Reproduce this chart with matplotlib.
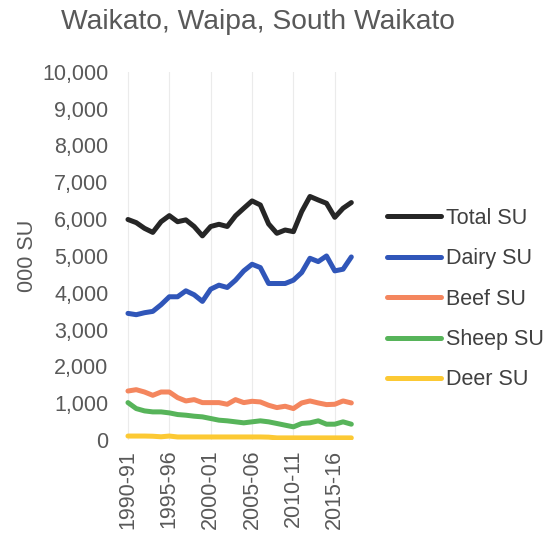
import matplotlib
matplotlib.use("Agg")
import matplotlib.pyplot as plt

plt.rcParams['font.family'] = ['Liberation Sans', 'DejaVu Sans']

years = [f"{y}-{str(y+1)[-2:]}" for y in range(1990, 2018)]
tick_labels = ["1990-91", "1995-96", "2000-01", "2005-06", "2010-11", "2015-16"]

total = [5990, 5905, 5750, 5640, 5930, 6095, 5930, 5980, 5800, 5545,
         5800, 5860, 5800, 6090, 6295, 6495, 6385, 5870, 5615, 5705,
         5660, 6205, 6615, 6520, 6430, 6050, 6295, 6450]
dairy = [3441, 3405, 3459, 3495, 3676, 3892, 3892, 4054, 3946, 3766,
         4099, 4207, 4144, 4342, 4595, 4775, 4685, 4252, 4252, 4252,
         4342, 4550, 4937, 4847, 5000, 4595, 4640, 4973]
beef = [1333, 1369, 1306, 1216, 1306, 1306, 1153, 1063, 1099, 1018,
        1018, 1018, 973, 1099, 1018, 1054, 1036, 946, 883, 919,
        856, 1009, 1063, 1009, 964, 973, 1063, 1009]
sheep = [1018, 856, 793, 766, 766, 739, 694, 676, 649, 631,
         586, 541, 523, 496, 469, 496, 523, 496, 451, 405,
         360, 451, 469, 523, 432, 432, 496, 432]
deer = [110, 110, 110, 105, 90, 110, 85, 85, 85, 85,
        85, 85, 85, 85, 85, 85, 85, 80, 60, 60,
        60, 60, 60, 60, 60, 60, 60, 60]

series = [("Total SU", total, "#262626"),
          ("Dairy SU", dairy, "#3056B9"),
          ("Beef SU", beef, "#F4865E"),
          ("Sheep SU", sheep, "#57B45A"),
          ("Deer SU", deer, "#FCC934")]

grey = "#595959"
fig = plt.figure(figsize=(5.49, 5.40), dpi=100)
ax = fig.add_axes([0.215, 0.185, 0.44, 0.682])

x = list(range(len(years)))
for name, vals, col in series:
    ax.plot(x, vals, color=col, lw=3.6, label=name, solid_capstyle="round",
            solid_joinstyle="round")

ax.set_ylim(0, 10000)
ax.set_yticks(range(0, 10001, 1000))
ax.set_yticklabels([f"{v:,}" for v in range(0, 10001, 1000)])
ax.set_xlim(-1.2, 28.0)
pos = [years.index(t) for t in tick_labels]
ax.set_xticks(pos)
ax.set_xticklabels(tick_labels, rotation=90)
ax.tick_params(axis="both", length=0, labelsize=15.5, colors=grey, pad=7)
ax.grid(axis="x", color="#EBEBEB", lw=0.8)
ax.set_axisbelow(True)
for s in ax.spines.values():
    s.set_visible(False)

ax.set_ylabel("000 SU", fontsize=15.5, color=grey, labelpad=3)
fig.text(0.47, 0.96, "Waikato, Waipa, South Waikato", ha="center", va="center",
         fontsize=20.3, color=grey)

leg = fig.legend(loc="center left", bbox_to_anchor=(0.705, 0.446), frameon=False,
                 fontsize=15.5, handlelength=2.5, handletextpad=0.25,
                 labelspacing=0.9, borderpad=0, borderaxespad=0)
for t in leg.get_texts():
    t.set_color("#404040")

fig.savefig("out.png", dpi=100)
